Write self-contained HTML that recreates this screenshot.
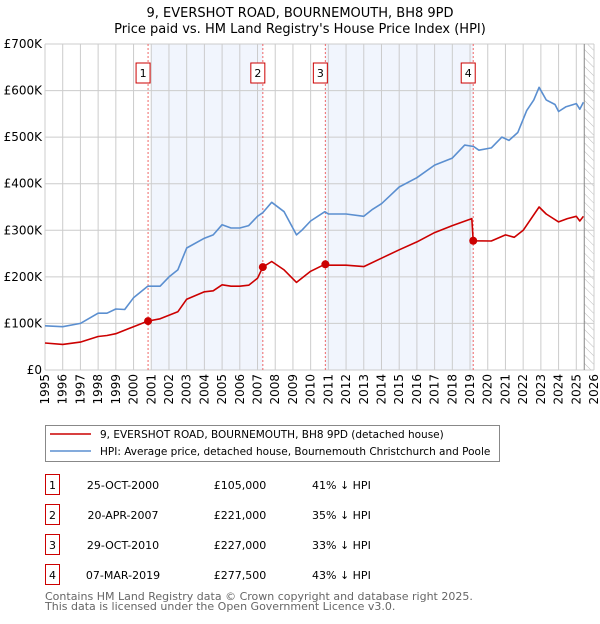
<!DOCTYPE html>
<html><head><meta charset="utf-8"><style>
body{margin:0;background:#fff;width:600px;height:620px;overflow:hidden;font-family:"DejaVu Sans","Liberation Sans",sans-serif}
svg text{font-family:"DejaVu Sans","Liberation Sans",sans-serif}
</style></head><body>
<svg id="c" width="600" height="620"></svg>
<script>
const hpiX=[1995,1996,1997,1998,1998.5,1999,1999.5,2000,2000.8,2001.5,2002,2002.5,2003,2004,2004.5,2005,2005.5,2006,2006.5,2007,2007.3,2007.8,2008.5,2009.2,2009.5,2010,2010.8,2011,2012,2013,2013.5,2014,2014.5,2015,2016,2017,2018,2018.7,2019.2,2019.5,2020.2,2020.8,2021.2,2021.7,2022.2,2022.6,2022.9,2023.3,2023.8,2024,2024.4,2025,2025.2,2025.4];
const hpiY=[95,93,100,122,122,131,130,155,180,180,200,215,262,283,290,312,305,305,310,330,338,360,340,290,300,320,340,335,335,330,345,357,375,393,413,440,455,483,480,472,477,500,493,510,557,580,607,580,570,555,565,572,560,575];
const ppX=[1995,1996,1997,1998,1998.5,1999,2000,2000.8,2001.5,2002.5,2003,2004,2004.5,2005,2005.5,2006,2006.5,2007,2007.3,2007.8,2008.5,2009.2,2010,2010.8,2011,2012,2013,2014,2015,2016,2017,2018,2019.1,2019.18,2020.2,2021,2021.5,2022,2022.9,2023.3,2024,2024.5,2025,2025.2,2025.4];
const ppY=[58,55,60,72,74,78,93,105,110,125,152,168,170,183,180,180,182,197,221,233,215,188,212,227,225,225,222,240,258,275,295,310,325,277.5,277,290,285,300,350,335,318,325,330,320,330];
const saleX=[2000.82,2007.3,2010.83,2019.18];
const saleY=[105,221,227,277.5];
const saleLbl=["1","2","3","4"];
const yTicks=[0,100,200,300,400,500,600,700];
const yLbls=["£0","£100K","£200K","£300K","£400K","£500K","£600K","£700K"];
const years=[];for(let y=1995;y<=2026;y++)years.push(y);

const L=45,R=594,T=44,B=370;
const sx=v=>L+(v-1995)/(2026-1995)*(R-L);
const sy=v=>B-v/700*(B-T);
const svg=document.getElementById('c');
const NS='http://www.w3.org/2000/svg';
function mk(t,a,p){const e=document.createElementNS(NS,t);for(const k in a)e.setAttribute(k,a[k]);(p||svg).appendChild(e);return e;}
let e;
e=mk('text',{x:300,y:17,'text-anchor':'middle','font-size':13,fill:'#000'});e.textContent='9, EVERSHOT ROAD, BOURNEMOUTH, BH8 9PD';


e=mk('text',{x:300,y:33,'text-anchor':'middle','font-size':13,fill:'#000'});e.textContent="Price paid vs. HM Land Registry's House Price Index (HPI)";


[[2001,2007.3],[2010.83,2019.18]].forEach(s=>{e=mk('rect',{x:sx(s[0]),y:T,width:sx(s[1])-sx(s[0]),height:B-T,fill:'#eef3fc',opacity:0.8});

});
const defs=mk('defs',{});const pat=mk('pattern',{id:'h',width:6,height:6,patternUnits:'userSpaceOnUse',patternTransform:'rotate(-45)'},defs);
mk('line',{x1:0,y1:0,x2:0,y2:6,stroke:'#bbb','stroke-width':1},pat);
e=mk('rect',{x:sx(2025.45),y:T,width:R-sx(2025.45),height:B-T,fill:'url(#h)'});


years.forEach(y=>{mk('line',{x1:sx(y),x2:sx(y),y1:T,y2:B,stroke:'#ccc','stroke-width':1});
e=mk('text',{x:0,y:0,transform:`translate(${sx(y)+4},${B+4}) rotate(-90)`,'text-anchor':'end','font-size':12,fill:'#000'});e.textContent=y;

});
yTicks.forEach((v,i)=>{mk('line',{x1:L,x2:R,y1:sy(v),y2:sy(v),stroke:'#ccc','stroke-width':1});
e=mk('text',{x:L-3,y:sy(v)+4,'text-anchor':'end','font-size':12,fill:'#000'});e.textContent=yLbls[i];

});
mk('line',{x1:sx(2025.45),x2:sx(2025.45),y1:T,y2:B,stroke:'#888','stroke-width':1});
saleX.forEach((x,i)=>{mk('line',{x1:sx(x),x2:sx(x),y1:T,y2:B,stroke:'#e66','stroke-width':1,'stroke-dasharray':'2,2'});
e=mk('rect',{x:sx(x)-12,y:63,width:14,height:20,fill:'#fff',stroke:'#c00','stroke-width':1});


e=mk('text',{x:sx(x)-5,y:77,'text-anchor':'middle','font-size':11,fill:'#000'});e.textContent=saleLbl[i];});
function line(xs,ys,c,n){const d=xs.map((x,i)=>(i?'L':'M')+sx(x).toFixed(1)+','+sy(ys[i]).toFixed(1)).join('');
const p=mk('path',{d:d,fill:'none',stroke:c,'stroke-width':1.6,'stroke-linejoin':'round'});

}
line(hpiX,hpiY,'#5b8fd0','hpi-line');
line(ppX,ppY,'#cc0000','price-paid-line');
saleX.forEach((x,i)=>{e=mk('circle',{cx:sx(x),cy:sy(saleY[i]),r:4,fill:'#cc0000'});

});
e=mk('rect',{x:45.5,y:425.5,width:454,height:36,fill:'#fff',stroke:'#888'});


mk('line',{x1:50,x2:91,y1:434,y2:434,stroke:'#cc0000','stroke-width':1.6});
mk('line',{x1:50,x2:91,y1:451,y2:451,stroke:'#5b8fd0','stroke-width':1.6});
e=mk('text',{x:100,y:438,'font-size':10.5,fill:'#000'});e.textContent='9, EVERSHOT ROAD, BOURNEMOUTH, BH8 9PD (detached house)';


e=mk('text',{x:100,y:455,'font-size':10.5,fill:'#000'});e.textContent='HPI: Average price, detached house, Bournemouth Christchurch and Poole';


const dates=["25-OCT-2000","20-APR-2007","29-OCT-2010","07-MAR-2019"];
const prices=["£105,000","£221,000","£227,000","£277,500"];
const pcts=["41% ↓ HPI","35% ↓ HPI","33% ↓ HPI","43% ↓ HPI"];
dates.forEach((d,i)=>{const cy=483+i*30;
e=mk('rect',{x:45.5,y:cy-8.5,width:14,height:20,fill:'#fff',stroke:'#c00'});


e=mk('text',{x:52.5,y:cy+6,'text-anchor':'middle','font-size':11,fill:'#000'});e.textContent=saleLbl[i];
e=mk('text',{x:123,y:cy+6,'text-anchor':'middle','font-size':11,fill:'#000'});e.textContent=d;


e=mk('text',{x:240,y:cy+6,'text-anchor':'middle','font-size':11,fill:'#000'});e.textContent=prices[i];


e=mk('text',{x:312,y:cy+6,'font-size':11,fill:'#000'});e.textContent=pcts[i];

});
e=mk('text',{x:45,y:600,'font-size':11,fill:'#666'});e.textContent='Contains HM Land Registry data © Crown copyright and database right 2025.';


e=mk('text',{x:45,y:610,'font-size':11,fill:'#666'});e.textContent='This data is licensed under the Open Government Licence v3.0.';


</script>
</body></html>
